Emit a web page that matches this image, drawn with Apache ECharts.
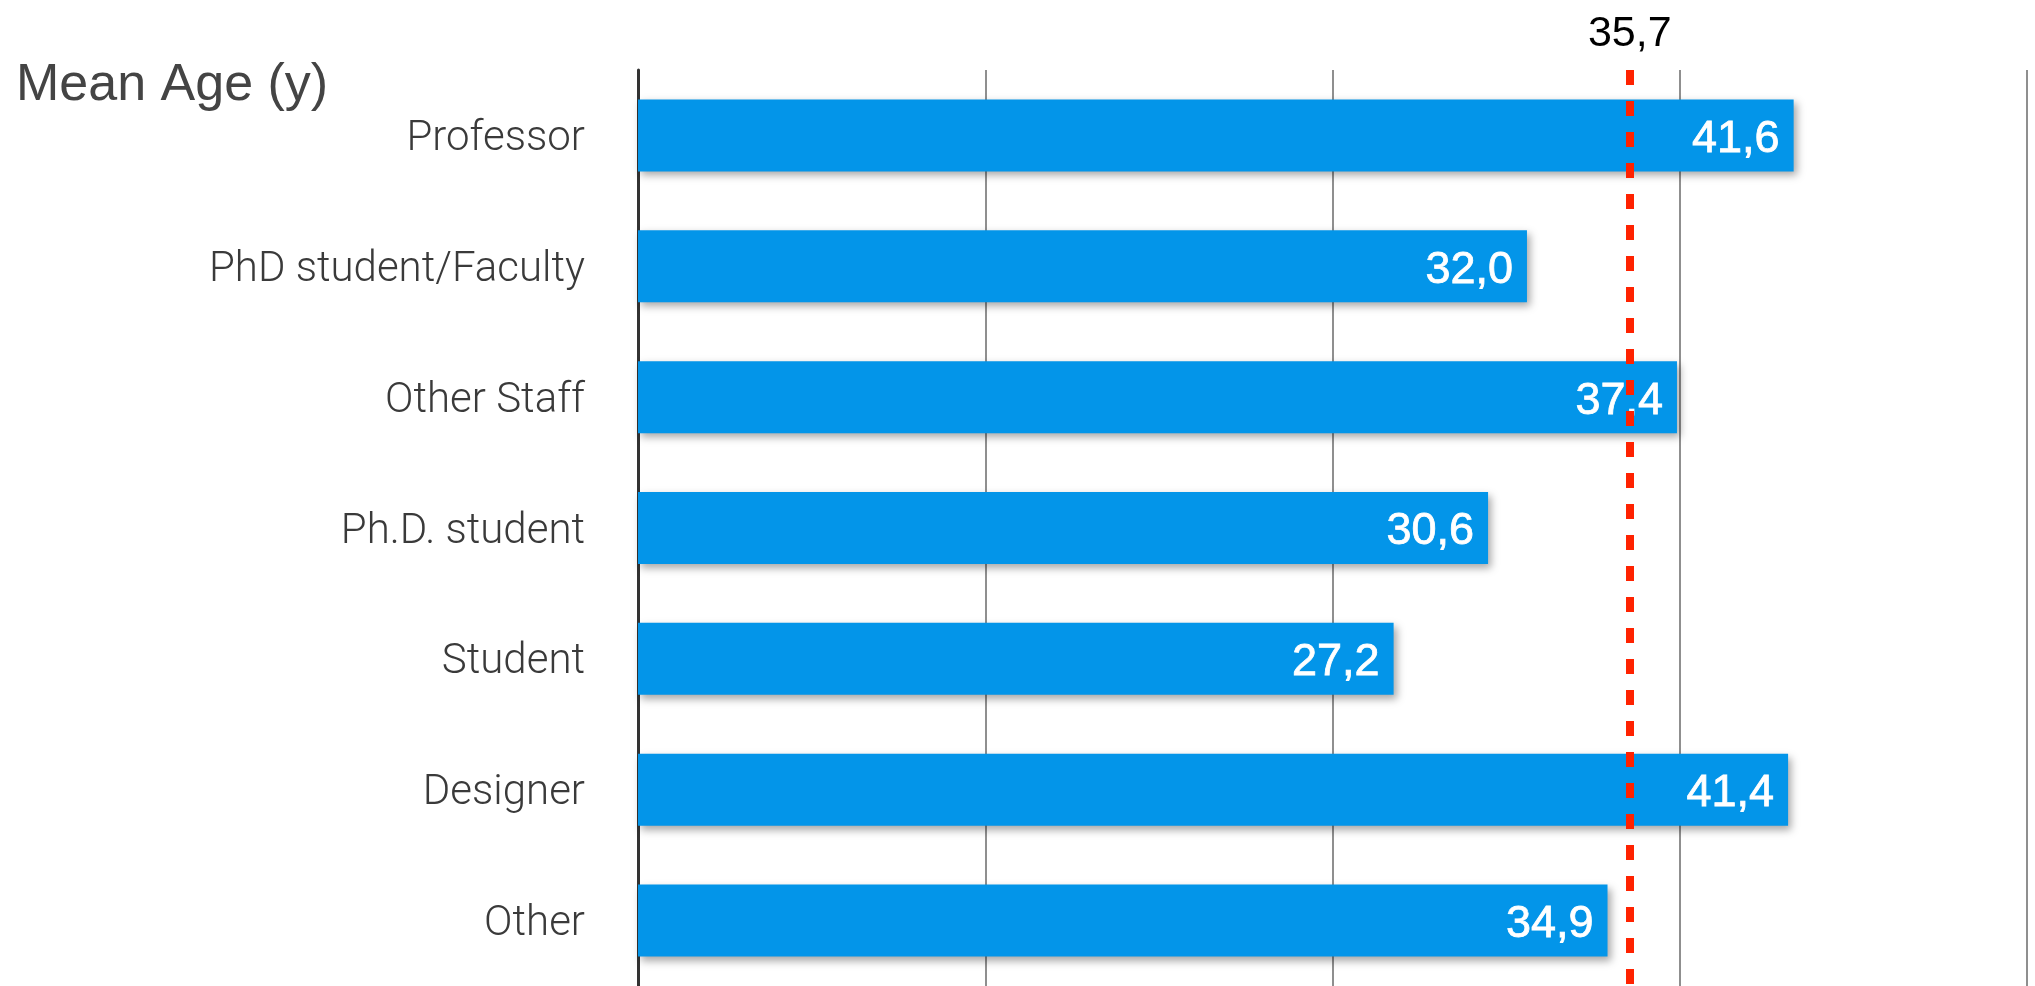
<!DOCTYPE html>
<html>
<head>
<meta charset="utf-8">
<title>Mean Age</title>
<script src="https://cdn.jsdelivr.net/npm/echarts@6/dist/echarts.min.js"></script>
<style>
    html, body { margin: 0; padding: 0; background: #fff; }
    #chart { width: 2035px; height: 986px; }
</style>
</head>
<body>
<div id="chart"></div>
<script>
// categories, top to bottom
var categories = ['Professor', 'PhD student/Faculty', 'Other Staff', 'Ph.D. student', 'Student', 'Designer', 'Other'];
// mean age per group
var meanAges = [41.6, 32.0, 37.4, 30.6, 27.2, 41.4, 34.9];
// overall mean
var overallMean = 35.7;

function toComma(v) {
    return v.toFixed(1).replace('.', ',');
}

var myChart = echarts.init(document.getElementById('chart'));

var option = {
    animation: false,
    title: {
        text: 'Mean Age (y)',
        left: 11,
        top: 55,
        textStyle: {
            fontFamily: 'Liberation Sans',
            fontSize: 52,
            fontWeight: 'normal',
            color: '#444'
        }
    },
    grid: {
        left: 638,
        right: 8,
        top: 70,
        bottom: -2
    },
    xAxis: {
        type: 'value',
        min: 0,
        max: 50,
        interval: 12.5,
        axisLine: { show: false },
        axisTick: { show: false },
        axisLabel: { show: false },
        splitLine: {
            lineStyle: { color: '#6a6a6a', width: 1.5 }
        }
    },
    yAxis: {
        type: 'category',
        data: categories,
        inverse: true,
        axisLine: {
            lineStyle: { color: '#333', width: 3 }
        },
        axisTick: {
            length: 6,
            lineStyle: { color: '#333', width: 3 }
        },
        axisLabel: {
            margin: 53,
            verticalAlign: 'top',
            padding: [-17, 0, 0, 0],
            fontFamily: 'Roboto',
            fontWeight: 300,
            fontSize: 42,
            color: '#3a3a3a'
        }
    },
    series: [{
        type: 'bar',
        data: meanAges,
        barWidth: 72,
        itemStyle: {
            color: '#0395e9',
            shadowColor: 'rgba(0, 0, 0, 0.35)',
            shadowBlur: 8,
            shadowOffsetX: 3,
            shadowOffsetY: 4
        },
        label: {
            show: true,
            position: 'insideRight',
            distance: 14,
            offset: [0, 4],
            fontFamily: 'Liberation Sans',
            fontSize: 45,
            color: '#fff',
            textBorderColor: '#fff',
            textBorderWidth: 0.8,
            formatter: function(p) { return toComma(p.value); }
        },
        markLine: {
            silent: true,
            symbol: 'none',
            data: [{ xAxis: overallMean }],
            lineStyle: {
                color: '#ff2200',
                width: 8,
                type: [15, 16]
            },
            label: {
                position: 'start',
                distance: 14,
                fontFamily: 'Liberation Sans',
                fontSize: 43,
                color: '#000',
                formatter: function() { return toComma(overallMean); }
            }
        }
    }]
};

myChart.setOption(option);
</script>
</body>
</html>
